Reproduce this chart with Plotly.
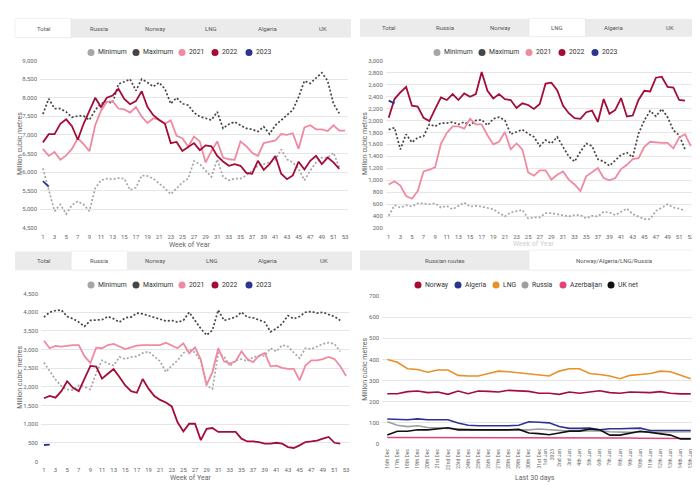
import plotly.graph_objects as go

W, H = 700, 485
FONT = "Roboto"

weeks = list(range(1, 54))
week_ticks = list(range(1, 54, 2))

# ---------------- Total ----------------
total_min = [6100, 5520, 4950, 5130, 4870, 5110, 5215, 5130, 4950, 5565, 5780, 5825, 5805, 5840, 5825, 5520,
             5580, 5910, 5895, 5825, 5695, 5565, 5405, 5565, 5720, 5825, 6300, 6215, 6040, 5870, 6345, 5870,
             5780, 5825, 5825, 5910, 6040, 6170, 6215, 6260, 6330, 6610, 6345, 6260, 6085, 5780, 6040, 6260,
             6390, 6390, 6520, 6130]
total_max = [7560, 7975, 7710, 7710, 7620, 7475, 7510, 7510, 7400, 7670, 7840, 7890, 7860, 8370, 8430, 8500,
             8190, 8500, 8410, 8300, 8410, 8235, 7840, 8000, 7840, 7800, 7600, 7490, 7450, 7400, 7620, 7175,
             7290, 7350, 7260, 7175, 7150, 7090, 7220, 7025, 7260, 7390, 7530, 7670, 8020, 8455, 8385, 8540,
             8675, 8455, 7840, 7580]
total_2021 = [6625, 6435, 6540, 6330, 6450, 6625, 6910, 6750, 6560, 7260, 7650, 7890, 7910, 7710, 7685, 7600,
              7750, 7490, 7320, 7450, 7410, 7300, 7390, 6975, 6910, 6680, 6955, 6825, 6260, 6565, 6825, 6390,
              6345, 6330, 6825, 6695, 6520, 6435, 6780, 6825, 6850, 7025, 7000, 7045, 6625, 7200, 7260, 7150,
              7150, 7105, 7260, 7115, 7115]
total_2022 = [6800, 7020, 7020, 7300, 7420, 7235, 6870, 7300, 7650, 8000, 7750, 8000, 8060, 8240, 7970, 7825,
              7910, 8175, 7750, 7530, 7400, 7300, 6780, 6810, 6565, 6680, 6780, 6590, 6720, 6695, 6435, 6285,
              6170, 6215, 6170, 5980, 5955, 6305, 6060, 6215, 6435, 5955, 5810, 5910, 6280, 6070, 6305, 6435,
              6215, 6390, 6260, 6085]
total_2023 = [5755, 5610]

# ---------------- LNG ----------------
lng_min = [407, 582, 544, 582, 560, 615, 615, 599, 615, 544, 571, 516, 571, 626, 560, 571, 560, 544, 516, 451,
           396, 462, 489, 505, 363, 379, 379, 451, 451, 434, 407, 396, 418, 418, 363, 407, 396, 473, 462, 418,
           473, 527, 434, 396, 352, 352, 489, 544, 599, 544, 527, 489]
lng_max = [1846, 1879, 1516, 1769, 1632, 1714, 1736, 1934, 1901, 1956, 1956, 1973, 1934, 1973, 1918, 2000,
           2011, 1918, 2027, 2055, 2000, 1769, 1808, 1846, 1780, 1725, 1571, 1670, 1615, 1725, 1560, 1396,
           1313, 1478, 1615, 1571, 1352, 1313, 1242, 1330, 1423, 1462, 1385, 1780, 2000, 2160, 2070, 2190,
           2055, 1835, 1753, 1516]
lng_2021 = [929, 984, 912, 736, 692, 819, 1148, 1176, 1220, 1615, 1791, 1901, 1901, 1863, 2027, 1934, 1934,
            1753, 1599, 1643, 1808, 1516, 1615, 1516, 1132, 1077, 1165, 1165, 1011, 1093, 1148, 1011, 929, 819,
            1066, 1132, 1203, 1038, 1000, 1038, 1187, 1258, 1352, 1368, 1560, 1643, 1632, 1626, 1626, 1533,
            1714, 1769, 1571]
lng_2022 = [2044, 2357, 2467, 2560, 2247, 2231, 2044, 1990, 2192, 2385, 2341, 2440, 2341, 2450, 2396, 2440,
            2808, 2495, 2368, 2440, 2357, 2341, 2209, 2286, 2258, 2192, 2275, 2615, 2632, 2505, 2247, 2121,
            2038, 2027, 2137, 2165, 1975, 2357, 2110, 2176, 2374, 2066, 2082, 2341, 2495, 2484, 2714, 2731,
            2560, 2550, 2341, 2330]
lng_2023 = [2330, 2286]

# ---------------- Russia ----------------
rus_min = [2650, 2410, 2195, 2020, 1930, 1910, 2035, 2000, 1930, 2370, 2710, 2625, 2570, 2800, 2745, 2800,
           2815, 2905, 2945, 2815, 2685, 2395, 2570, 2710, 2905, 3010, 2920, 2685, 2030, 1940, 2905, 2815,
           2550, 2710, 2745, 2685, 2800, 2815, 2835, 3035, 2950, 3120, 3080, 2920, 2770, 3035, 3010, 3080,
           3150, 3185, 3150, 2945]
rus_max = [3870, 4000, 4045, 4060, 3885, 3825, 3735, 3620, 3780, 3800, 3800, 3885, 3825, 3735, 3850, 3870,
           3975, 3955, 3910, 3850, 3825, 3765, 3780, 3735, 3780, 4000, 3780, 3560, 3385, 3520, 4060, 3780,
           3825, 3870, 4000, 3870, 3850, 3800, 3735, 3475, 3560, 3695, 3910, 3825, 3885, 4000, 4020, 3975,
           4000, 3940, 3885, 3780]
rus_2021 = [3235, 3035, 3095, 3080, 3095, 3120, 3120, 2815, 2640, 3050, 3035, 3120, 3150, 3080, 3010, 3060,
            3105, 3120, 3120, 3120, 3120, 3185, 3120, 3035, 3165, 2900, 3060, 2730, 2050, 2395, 3035, 2685,
            2625, 2685, 2950, 2745, 2660, 2835, 2905, 2550, 2570, 2510, 2480, 2480, 2175, 2570, 2710, 2710,
            2745, 2800, 2745, 2550, 2290]
rus_2022 = [1693, 1755, 1710, 1885, 2150, 1975, 1885, 2235, 2560, 2545, 2220, 2350, 2475, 2265, 2035, 1885,
            1840, 2210, 1950, 1755, 1650, 1580, 1475, 1050, 805, 1010, 1010, 570, 875, 895, 790, 790, 790, 790,
            610, 535, 535, 520, 475, 475, 500, 475, 385, 360, 430, 520, 535, 560, 610, 655, 500, 475]
rus_2023 = [440, 450]

# ---------------- Last 30 days ----------------
days = ["16th Dec", "17th Dec", "18th Dec", "19th Dec", "20th Dec", "21st Dec", "22nd Dec", "23rd Dec",
        "24th Dec", "25th Dec", "26th Dec", "27th Dec", "28th Dec", "29th Dec", "30th Dec", "31st Dec",
        "1st Jan<br>2023", "2nd Jan", "3rd Jan", "4th Jan", "5th Jan", "6th Jan", "7th Jan", "8th Jan",
        "9th Jan", "10th Jan", "11th Jan", "12th Jan", "13th Jan", "14th Jan", "15th Jan"]
d_norway = [238, 238, 248, 251, 243, 246, 235, 251, 238, 251, 249, 246, 254, 252, 249, 240, 240, 235, 246, 240,
            246, 252, 243, 240, 246, 246, 243, 248, 240, 237, 237]
d_algeria = [118, 115, 115, 119, 115, 115, 115, 99, 89, 86, 85, 85, 86, 89, 105, 103, 100, 83, 74, 74, 75, 67,
             72, 72, 72, 75, 64, 64, 63, 64, 64]
d_lng = [400, 387, 356, 353, 340, 350, 350, 325, 322, 322, 334, 345, 342, 337, 334, 329, 322, 345, 356, 356, 334,
         329, 322, 309, 325, 329, 334, 345, 342, 325, 309]
d_russia = [105, 89, 82, 86, 78, 75, 75, 71, 69, 67, 67, 69, 67, 67, 67, 71, 67, 64, 61, 61, 61, 63, 58, 55, 55,
            56, 56, 55, 55, 58, 58]
d_azer = [31, 31, 31, 31, 31, 31, 31, 31, 31, 31, 31, 31, 31, 31, 31, 31, 31, 30, 30, 30, 29, 29, 28, 28, 28, 27,
          27, 27, 26, 26, 26]
d_uknet = [42, 60, 60, 67, 67, 71, 77, 67, 67, 64, 67, 67, 67, 69, 52, 49, 44, 52, 61, 61, 71, 67, 42, 42, 52,
           60, 55, 49, 42, 24, 24]

C_MIN, C_MAX, C_21, C_22, C_23 = "#a6a6a6", "#454545", "#f08aa0", "#a30d38", "#2b3590"
C_NOR, C_ALG, C_LNG, C_RUS, C_AZE, C_UK = "#a30d38", "#2b3590", "#e8902a", "#9e9e9e", "#e0447a", "#111111"


def px(x):
    return x / W


def py(y):
    return 1 - y / H


fig = go.Figure()
DOTS = "2px,2px"


def week_panel(n, mn, mx, y21, y22, y23):
    xa = "x" if n == 1 else f"x{n}"
    ya = "y" if n == 1 else f"y{n}"
    fig.add_trace(go.Scatter(x=weeks[:len(mn)], y=mn, mode="lines", name="Minimum", xaxis=xa, yaxis=ya,
                             line=dict(color=C_MIN, width=1.7, dash=DOTS), showlegend=False))
    fig.add_trace(go.Scatter(x=weeks[:len(mx)], y=mx, mode="lines", name="Maximum", xaxis=xa, yaxis=ya,
                             line=dict(color=C_MAX, width=1.7, dash=DOTS), showlegend=False))
    fig.add_trace(go.Scatter(x=weeks[:len(y21)], y=y21, mode="lines", name="2021", xaxis=xa, yaxis=ya,
                             line=dict(color=C_21, width=1.8), showlegend=False))
    fig.add_trace(go.Scatter(x=weeks[:len(y22)], y=y22, mode="lines", name="2022", xaxis=xa, yaxis=ya,
                             line=dict(color=C_22, width=1.8), showlegend=False))
    fig.add_trace(go.Scatter(x=weeks[:len(y23)], y=y23, mode="lines", name="2023", xaxis=xa, yaxis=ya,
                             line=dict(color=C_23, width=1.8), showlegend=False))


week_panel(1, total_min, total_max, total_2021, total_2022, total_2023)
week_panel(2, lng_min, lng_max, lng_2021, lng_2022, lng_2023)
week_panel(3, rus_min, rus_max, rus_2021, rus_2022, rus_2023)

for name, vals, col in [("Norway", d_norway, C_NOR), ("Algeria", d_algeria, C_ALG), ("LNG", d_lng, C_LNG),
                        ("Russia", d_russia, C_RUS), ("Azerbaijan", d_azer, C_AZE), ("UK net", d_uknet, C_UK)]:
    fig.add_trace(go.Scatter(x=days, y=vals, mode="lines", name=name, xaxis="x4", yaxis="y4",
                             line=dict(color=col, width=1.6), showlegend=False))

tickfont = dict(family=FONT, size=6, color="#666")
grid = "#e6e6e6"


def xweek(dom, anchor):
    return dict(domain=[px(dom[0]), px(dom[1])], anchor=anchor, range=[0.5, 53.5], tickvals=week_ticks,
                tickfont=tickfont, showgrid=False, zeroline=False, showline=False, ticks="",
                ticklabelstandoff=4, fixedrange=True)


def yax(dom, anchor, rng, dt):
    return dict(domain=[py(dom[1]), py(dom[0])], anchor=anchor, range=rng, dtick=dt, tick0=0,
                tickformat=",d", tickfont=tickfont, gridcolor=grid, gridwidth=1, zeroline=False,
                showline=False, ticks="", ticklabelstandoff=2, fixedrange=True)


fig.update_layout(
    width=W, height=H, margin=dict(l=0, r=0, t=0, b=0),
    paper_bgcolor="white", plot_bgcolor="white", showlegend=False,
    font=dict(family=FONT, color="#333"),
    xaxis=xweek([32, 340], "y"),
    yaxis=yax([49.3, 219], "x", [4500, 9000], 500),
    xaxis2=xweek([377.8, 685.7], "y2"),
    yaxis2=yax([49.3, 219.3], "x2", [200, 3000], 200),
    xaxis3=xweek([33, 341], "y3"),
    yaxis3=yax([285.7, 456], "x3", [0, 4500], 500),
    xaxis4=dict(domain=[px(374.2), px(687.8)], anchor="y4", type="category", range=[-0.5, 30.5],
                tickangle=-90, tickfont=dict(family=FONT, size=5, color="#666"), showgrid=False,
                zeroline=False, showline=False, ticks="", ticklabelstandoff=3, fixedrange=True),
    yaxis4=yax([288.3, 438.3], "x4", [0, 700], 100),
)

shapes = []
annos = []


def tabs(x0, x1, y0, y1, labels, sel):
    shapes.append(dict(type="rect", xref="paper", yref="paper", x0=px(x0), x1=px(x1), y0=py(y1), y1=py(y0),
                       fillcolor="#ebebeb", line=dict(width=0), layer="below"))
    n = len(labels)
    w = (x1 - x0) / n
    for i, lab in enumerate(labels):
        a, b = x0 + i * w, x0 + (i + 1) * w
        if i == sel:
            shapes.append(dict(type="rect", xref="paper", yref="paper", x0=px(a), x1=px(b), y0=py(y1),
                               y1=py(y0 - 0.5), fillcolor="white", line=dict(width=0.5, color="#e0e0e0"),
                               layer="below"))
        annos.append(dict(x=px((a + b) / 2), y=py((y0 + y1) / 2), xref="paper", yref="paper", text=lab,
                          showarrow=False, font=dict(family=FONT, size=6, color="#555"),
                          xanchor="center", yanchor="middle"))


six = ["Total", "Russia", "Norway", "LNG", "Algeria", "UK"]
tabs(7, 343, 7, 26, six, 0)
tabs(352, 690, 7, 25, six, 3)
tabs(7, 344, 243, 262, six, 1)
tabs(352, 690, 242, 262, ["Russian routes", "Norway/Algeria/LNG/Russia"], 1)


def legend(items, y):
    for cx, label, col in items:
        shapes.append(dict(type="circle", xref="paper", yref="paper", xsizemode="pixel", ysizemode="pixel",
                           xanchor=px(cx), yanchor=py(y), x0=-3.5, x1=3.5, y0=-3.5, y1=3.5,
                           fillcolor=col, line=dict(width=0)))
        annos.append(dict(x=px(cx + 5), y=py(y), xref="paper", yref="paper", text=label, showarrow=False,
                          font=dict(family=FONT, size=6.8, color="#333"), xanchor="left", yanchor="middle"))


leg_names = ["Minimum", "Maximum", "2021", "2022", "2023"]
leg_cols = [C_MIN, C_MAX, C_21, C_22, C_23]
legend(list(zip([83, 128, 174, 207, 241], leg_names, leg_cols)), 41)
legend(list(zip([429, 474, 521, 554, 587], leg_names, leg_cols)), 41)
legend(list(zip([83, 128, 174, 207, 241], leg_names, leg_cols)), 277)
legend(list(zip([410, 450, 488, 517, 555, 603],
                ["Norway", "Algeria", "LNG", "Russia", "Azerbaijan", "UK net"],
                [C_NOR, C_ALG, C_LNG, C_RUS, C_AZE, C_UK])), 277)


def text(x, y, s, angle=0, size=7, color="#666"):
    annos.append(dict(x=px(x), y=py(y), xref="paper", yref="paper", text=s, showarrow=False, textangle=angle,
                      font=dict(family=FONT, size=size, color=color), xanchor="center", yanchor="middle"))


text(12, 134, "Million cubic metres", -90)
text(357, 134, "Million cubic metres", -90)
text(12, 371, "Million cubic metres", -90)
text(357, 363, "Million cubic metres", -90)
text(181, 236, "Week of Year")
text(525, 235, "Week of Year", color="#cfcfcf")
text(182, 473, "Week of Year")
text(527, 473, "Last 30 days")

fig.update_layout(shapes=shapes, annotations=annos)
fig.write_html("out.html")
